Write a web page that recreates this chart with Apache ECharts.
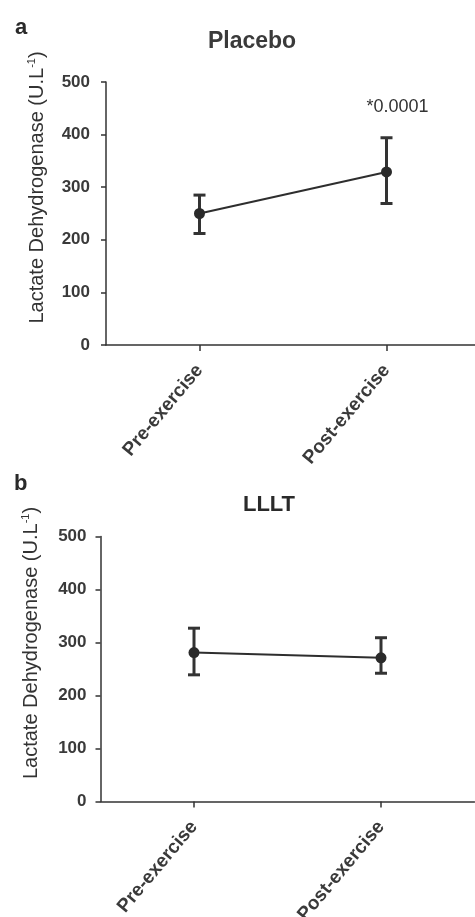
<!DOCTYPE html>
<html>
<head>
<meta charset="utf-8">
<script src="https://cdn.jsdelivr.net/npm/echarts@6/dist/echarts.min.js"></script>
<style>
html,body{margin:0;padding:0;background:#fff;}
#c{width:475px;height:917px;}
</style>
</head>
<body>
<div id="c"></div>
<script>
const categories = ['Pre-exercise', 'Post-exercise'];
const yTicks = [0, 100, 200, 300, 400, 500];

const placeboMean = [250, 329];
const placeboLow = [212, 269];
const placeboHigh = [285, 394];
const placeboNote = ['', '*0.0001'];

const llltMean = [281, 271];
const llltLow = [239, 242];
const llltHigh = [327, 309];
const llltNote = ['', ''];

const panelTitles = ['Placebo', 'LLLT'];
const panelLetters = ['a', 'b'];
const yName = 'Lactate Dehydrogenase ';

const FONT = '"Liberation Sans", Arial, sans-serif';
const INK = '#333333';

const chart = echarts.init(document.getElementById('c'), null, {renderer: 'canvas'});

function errData(low, high, notes) {
  return low.map((l, i) => [i, l, high[i], notes[i]]);
}

function errRender(params, api) {
  const i = api.value(0);
  const lo = api.coord([i, api.value(1)]);
  const hi = api.coord([i, api.value(2)]);
  const note = api.value(3);
  const hw = 6;
  const st = {stroke: '#333333', lineWidth: 3};
  const children = [
    {type: 'line', shape: {x1: lo[0], y1: lo[1], x2: hi[0], y2: hi[1]}, style: st},
    {type: 'line', shape: {x1: lo[0] - hw, y1: lo[1], x2: lo[0] + hw, y2: lo[1]}, style: st},
    {type: 'line', shape: {x1: hi[0] - hw, y1: hi[1], x2: hi[0] + hw, y2: hi[1]}, style: st}
  ];
  if (note) {
    children.push({type: 'text', x: hi[0] + 11, y: hi[1] - 31,
      style: {text: note, fill: INK, font: '18px ' + FONT, align: 'center', verticalAlign: 'middle'}});
  }
  return {type: 'group', children: children};
}

function yAxisCfg(gridIndex, margin) {
  return {
    type: 'value', gridIndex: gridIndex, min: 0, max: 500, interval: 100,
    name: yName + '{p|(U.L}{s|-1}{p|)}',
    nameLocation: 'middle', nameGap: 58,
    nameTextStyle: {
      fontFamily: FONT, fontSize: 20, color: INK, padding: [0, 0, 0, 52], lineHeight: 22,
      rich: {
        p: {fontFamily: FONT, fontSize: 20, color: INK, lineHeight: 22},
        s: {fontFamily: FONT, fontSize: 11, color: INK, verticalAlign: 'top', lineHeight: 22}
      }
    },
    axisLine: {show: true, lineStyle: {color: INK, width: 1.5}},
    axisTick: {show: true, length: 5, lineStyle: {color: INK, width: 1.5}},
    splitLine: {show: false},
    axisLabel: {
      margin: margin, fontFamily: FONT, fontSize: 17, fontWeight: 'bold', color: '#3a3a3a',
      formatter: v => yTicks.indexOf(v) >= 0 ? String(v) : ''
    }
  };
}

function xAxisCfg(gridIndex) {
  return {
    type: 'category', gridIndex: gridIndex, data: categories, boundaryGap: true,
    axisLine: {show: true, onZero: false, lineStyle: {color: INK, width: 1.5}},
    axisTick: {show: true, alignWithLabel: true, length: 6, lineStyle: {color: INK, width: 1.5}},
    axisLabel: {rotate: 50, margin: 22, fontFamily: FONT, fontSize: 19, fontWeight: 'bold', color: '#3a3a3a'},
    splitLine: {show: false}
  };
}

function lineSeries(idx, data) {
  return {
    type: 'line', xAxisIndex: idx, yAxisIndex: idx, data: data,
    symbol: 'circle', symbolSize: 11,
    itemStyle: {color: '#2a2a2a'},
    lineStyle: {color: '#2e2e2e', width: 2},
    z: 5, animation: false
  };
}

function errSeries(idx, low, high, notes) {
  return {
    type: 'custom', xAxisIndex: idx, yAxisIndex: idx,
    data: errData(low, high, notes), renderItem: errRender,
    encode: {x: 0, y: [1, 2]}, z: 3, animation: false
  };
}

chart.setOption({
  backgroundColor: '#ffffff',
  animation: false,
  title: [
    {text: panelLetters[0], left: 10, top: 12, textStyle: {fontFamily: FONT, fontSize: 22, fontWeight: 'bold', color: '#2a2a2a'}},
    {text: panelTitles[0], left: 247, top: 25, textAlign: 'center', textStyle: {fontFamily: FONT, fontSize: 23, fontWeight: 'bold', color: '#3a3a3a'}},
    {text: panelLetters[1], left: 9, top: 468, textStyle: {fontFamily: FONT, fontSize: 22, fontWeight: 'bold', color: '#2a2a2a'}},
    {text: panelTitles[1], left: 264, top: 489, textAlign: 'center', textStyle: {fontFamily: FONT, fontSize: 22, fontWeight: 'bold', color: '#2a2a2a'}}
  ],
  grid: [
    {left: 106, top: 82, width: 374, height: 263, containLabel: false, outerBoundsMode: 'none'},
    {left: 100.5, top: 536.5, width: 374, height: 265, containLabel: false, outerBoundsMode: 'none'}
  ],
  xAxis: [xAxisCfg(0), xAxisCfg(1)],
  yAxis: [yAxisCfg(0, 16), yAxisCfg(1, 14)],
  series: [
    errSeries(0, placeboLow, placeboHigh, placeboNote),
    lineSeries(0, placeboMean),
    errSeries(1, llltLow, llltHigh, llltNote),
    lineSeries(1, llltMean)
  ]
});
</script>
</body>
</html>
